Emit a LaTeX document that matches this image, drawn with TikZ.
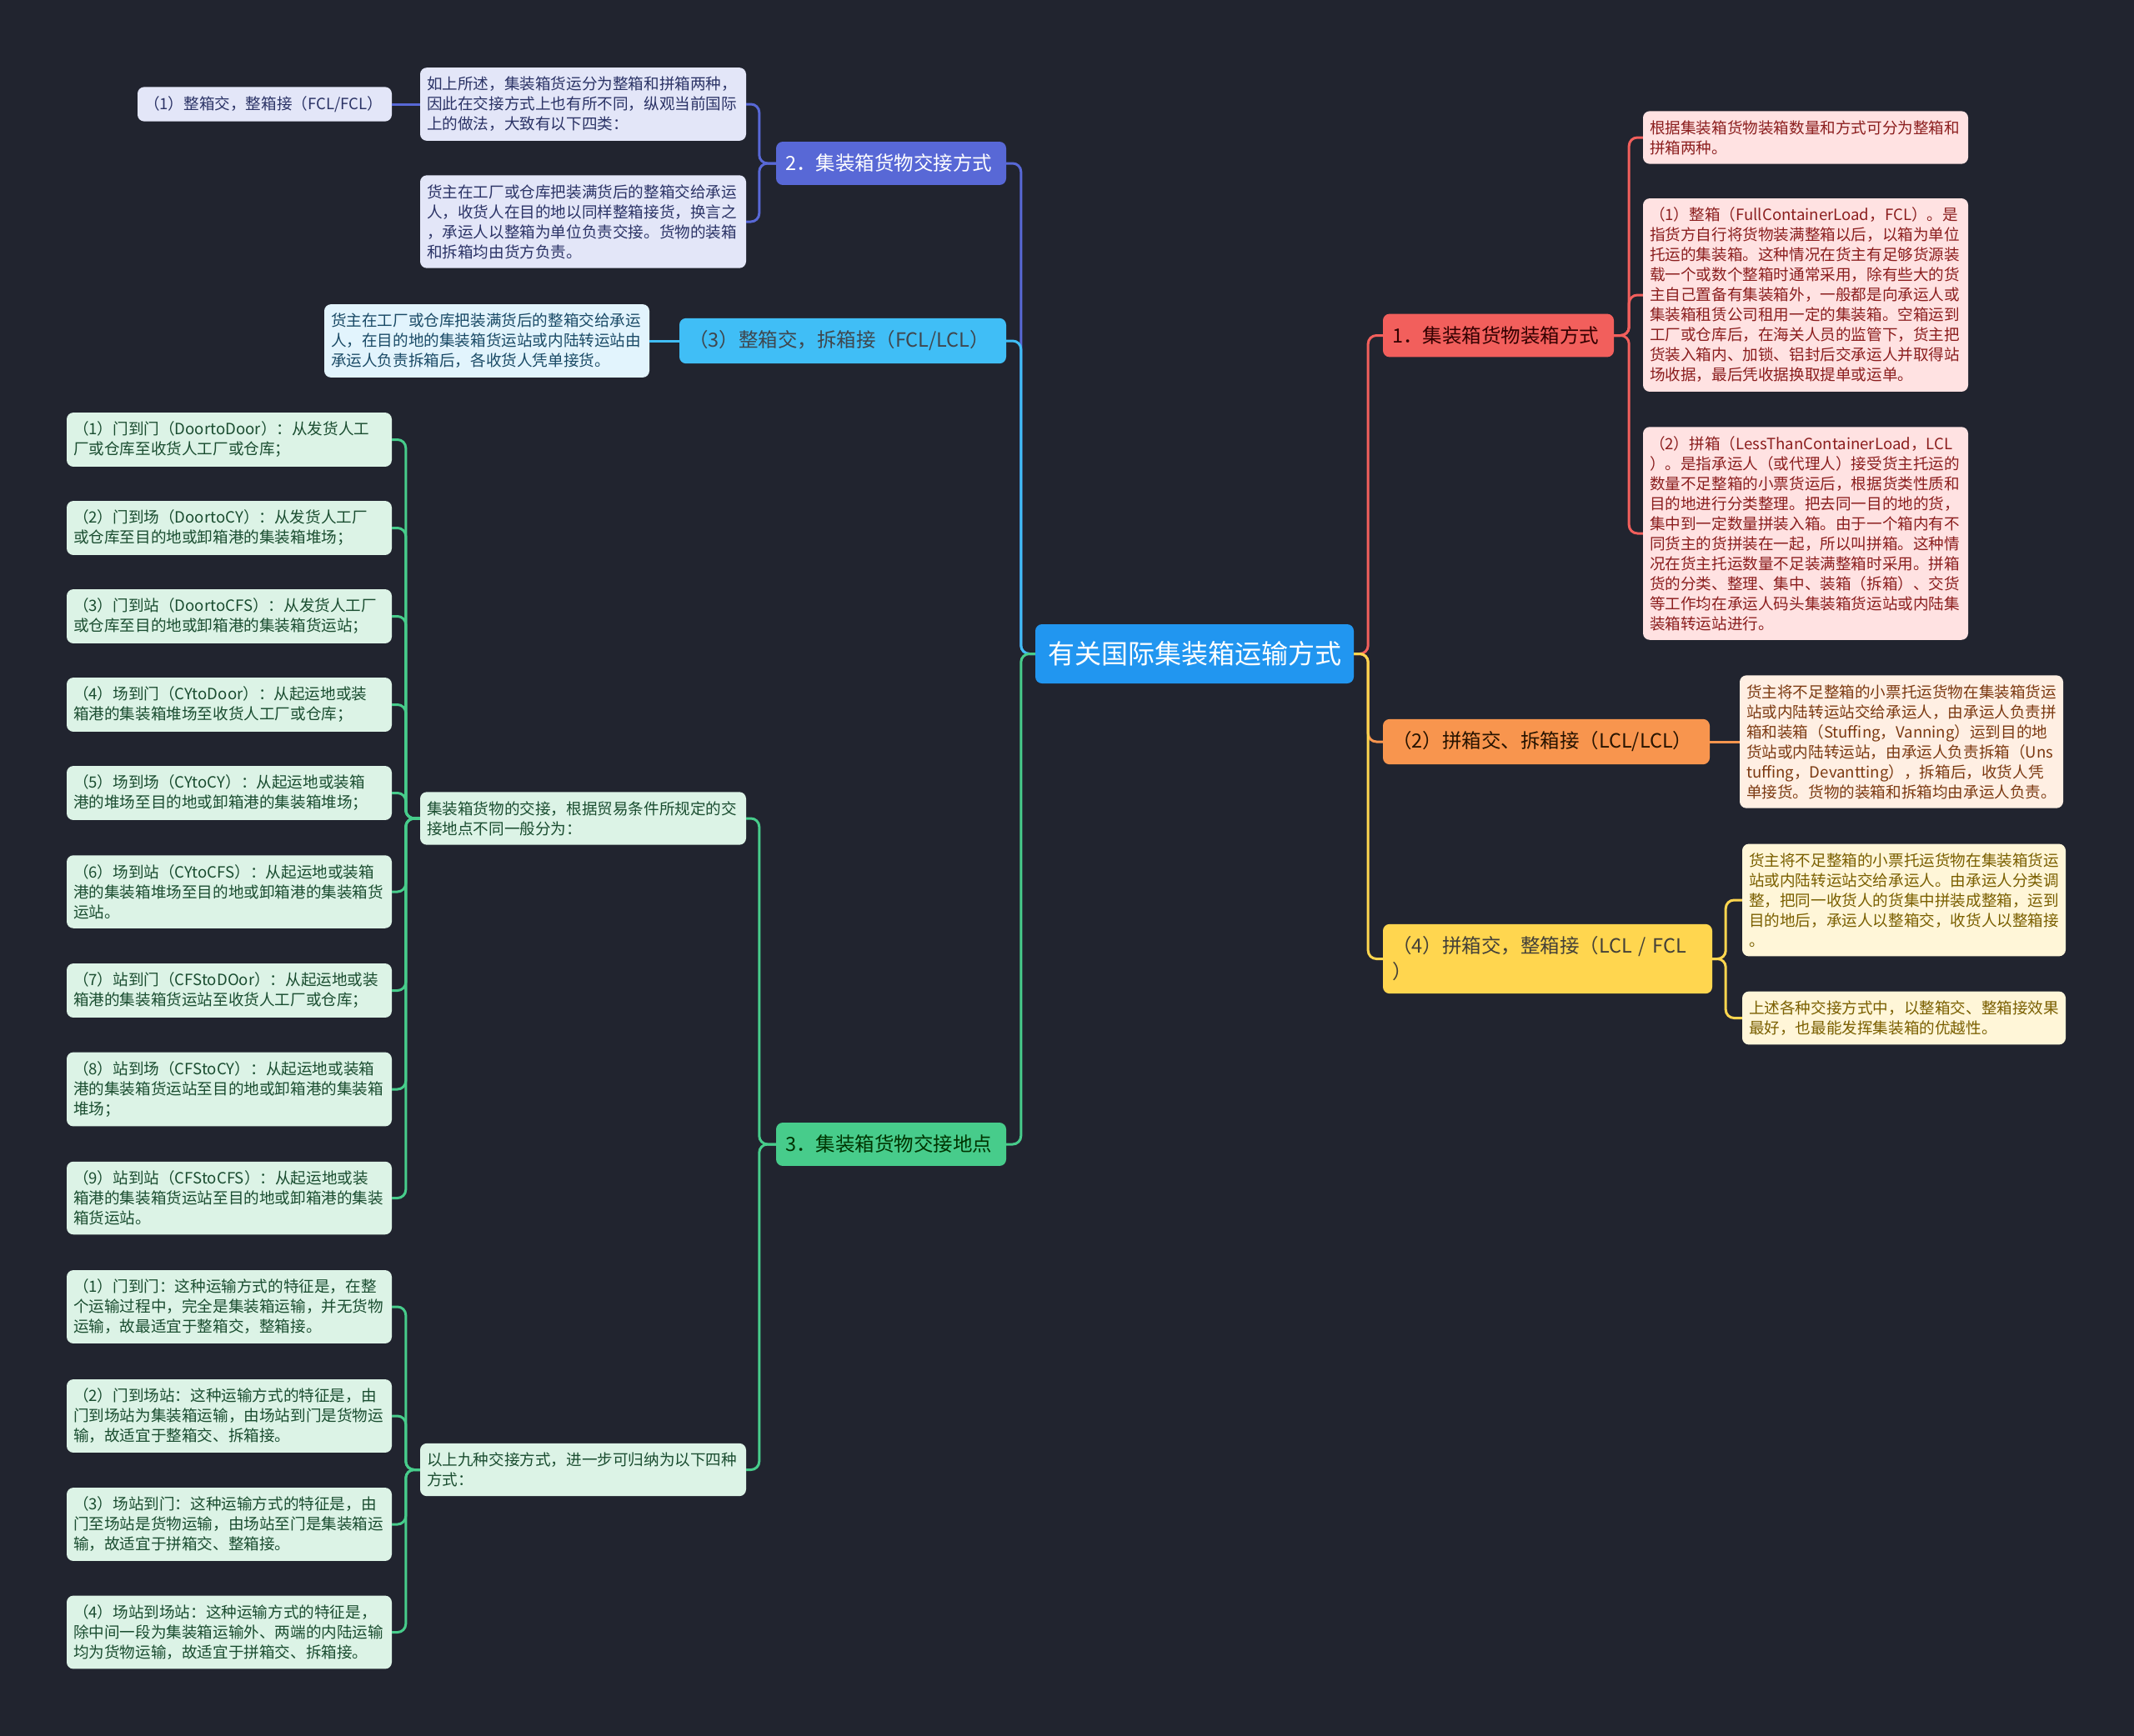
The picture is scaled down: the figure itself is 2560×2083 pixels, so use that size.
\documentclass[tikz,border=0pt]{standalone}
\usepackage{fontspec}
\setmainfont{Noto Sans CJK SC}
\definecolor{bg}{HTML}{21242F}
\definecolor{cRoot}{HTML}{2196F0}
\definecolor{cR}{HTML}{F25F5C}
\definecolor{cO}{HTML}{F8954E}
\definecolor{cY}{HTML}{FFD64F}
\definecolor{cB}{HTML}{5868D6}
\definecolor{cL}{HTML}{40BEF6}
\definecolor{cG}{HTML}{47CC8B}
\definecolor{fR}{HTML}{FFE2E2}\definecolor{tR}{HTML}{8B1E1E}
\definecolor{fO}{HTML}{FFEFE3}\definecolor{tO}{HTML}{7C3A12}
\definecolor{fY}{HTML}{FFF6D8}\definecolor{tY}{HTML}{7A5F00}
\definecolor{fB}{HTML}{E3E6F8}\definecolor{tB}{HTML}{2B3366}
\definecolor{fL}{HTML}{E2F4FD}\definecolor{tL}{HTML}{1A4A66}
\definecolor{fG}{HTML}{DCF3E6}\definecolor{tG}{HTML}{1A4D30}
\tikzset{
  rootbox/.style={fill=cRoot, text=white, rounded corners=8pt, minimum width=382pt,
    minimum height=71pt, inner sep=0pt, font=\fontsize{32}{38}\selectfont},
  branch/.style={rounded corners=8pt, inner xsep=11pt, inner ysep=15pt, align=left,
    font=\fontsize{23.5}{31}\selectfont},
  leaf/.style={rounded corners=8pt, inner xsep=8pt, inner ysep=11pt, align=left,
    text width=374pt, font=\fontsize{18.6}{24}\selectfont},
  brR/.style={branch, fill=cR, text=black!80!red},
  brO/.style={branch, fill=cO, text=black!85!orange},
  brY/.style={branch, fill=cY, text=black!85!yellow},
  brB/.style={branch, fill=cB, text=white},
  brL/.style={branch, fill=cL, text=black!80!cyan},
  brG/.style={branch, fill=cG, text=black!80!green},
  lfR/.style={leaf, fill=fR, text=tR},
  lfO/.style={leaf, fill=fO, text=tO},
  lfY/.style={leaf, fill=fY, text=tY},
  lfB/.style={leaf, fill=fB, text=tB},
  lfL/.style={leaf, fill=fL, text=tL},
  lfG/.style={leaf, fill=fG, text=tG},
  conn/.style={line width=3pt, rounded corners=10pt},
}
\begin{document}
\begin{tikzpicture}[x=1pt,y=-1pt]
\fill[bg] (0,0) rectangle (2560,2083);
\useasboundingbox (0,0) rectangle (2560,2083);

% root
\node[rootbox] (root) at (1433,784.5) {有关国际集装箱运输方式};

% right side
\node[brR, text width=255pt] (R) at (1797.5,402.5) {1．集装箱货物装箱方式};
\node[lfR] (R1) at (2166,165) {根据集装箱货物装箱数量和方式可分为整箱和\\拼箱两种。};
\node[lfR] (R2) at (2166,354) {（1）整箱（FullContainerLoad，FCL）。是\\指货方自行将货物装满整箱以后，以箱为单位\\托运的集装箱。这种情况在货主有足够货源装\\载一个或数个整箱时通常采用，除有些大的货\\主自己置备有集装箱外，一般都是向承运人或\\集装箱租赁公司租用一定的集装箱。空箱运到\\工厂或仓库后，在海关人员的监管下，货主把\\货装入箱内、加锁、铝封后交承运人并取得站\\场收据，最后凭收据换取提单或运单。};
\node[lfR] (R3) at (2166,640) {（2）拼箱（LessThanContainerLoad，LCL\\）。是指承运人（或代理人）接受货主托运的\\数量不足整箱的小票货运后，根据货类性质和\\目的地进行分类整理。把去同一目的地的货，\\集中到一定数量拼装入箱。由于一个箱内有不\\同货主的货拼装在一起，所以叫拼箱。这种情\\况在货主托运数量不足装满整箱时采用。拼箱\\货的分类、整理、集中、装箱（拆箱）、交货\\等工作均在承运人码头集装箱货运站或内陆集\\装箱转运站进行。};

\node[brO, text width=370pt] (O) at (1855,890) {（2）拼箱交、拆箱接（LCL/LCL）};
\node[lfO, text width=372pt] (O1) at (2281,890) {货主将不足整箱的小票托运货物在集装箱货运\\站或内陆转运站交给承运人，由承运人负责拼\\箱和装箱（Stuffing，Vanning）运到目的地\\货站或内陆转运站，由承运人负责拆箱（Uns\\tuffing，Devantting），拆箱后，收货人凭\\单接货。货物的装箱和拆箱均由承运人负责。};

\node[brY, text width=373pt] (Y) at (1856.5,1150.5) {（4）拼箱交，整箱接（LCL / FCL\\）};
\node[lfY, text width=372pt] (Y1) at (2284,1080) {货主将不足整箱的小票托运货物在集装箱货运\\站或内陆转运站交给承运人。由承运人分类调\\整，把同一收货人的货集中拼装成整箱，运到\\目的地后，承运人以整箱交，收货人以整箱接\\。};
\node[lfY, text width=372pt] (Y2) at (2284,1221.5) {上述各种交接方式中，以整箱交、整箱接效果\\最好，也最能发挥集装箱的优越性。};

% left side
\node[brB, text width=254pt] (B) at (1069,196) {2．集装箱货物交接方式};
\node[lfB, text width=375pt] (Ba) at (699.5,125) {如上所述，集装箱货运分为整箱和拼箱两种，\\因此在交接方式上也有所不同，纵观当前国际\\上的做法，大致有以下四类：};
\node[lfB, text width=375pt] (Bb) at (699.5,266) {货主在工厂或仓库把装满货后的整箱交给承运\\人，收货人在目的地以同样整箱接货，换言之\\，承运人以整箱为单位负责交接。货物的装箱\\和拆箱均由货方负责。};
\node[lfB, text width=289pt] (Bc) at (317.5,125) {（1）整箱交，整箱接（FCL/FCL）};

\node[brL, text width=370pt] (L) at (1011,409) {（3）整箱交，拆箱接（FCL/LCL）};
\node[lfL] (La) at (584,409) {货主在工厂或仓库把装满货后的整箱交给承运\\人，在目的地的集装箱货运站或内陆转运站由\\承运人负责拆箱后，各收货人凭单接货。};

\node[brG, text width=254pt] (G) at (1069,1373) {3．集装箱货物交接地点};
\node[lfG, text width=375pt] (G1) at (699.5,982) {集装箱货物的交接，根据贸易条件所规定的交\\接地点不同一般分为：};
\node[lfG, text width=375pt] (G2) at (699.5,1763.5) {以上九种交接方式，进一步可归纳为以下四种\\方式：};

\node[lfG] (P1) at (275,527.5) {（1）门到门（DoortoDoor）：从发货人工\\厂或仓库至收货人工厂或仓库；};
\node[lfG] (P2) at (275,633.5) {（2）门到场（DoortoCY）：从发货人工厂\\或仓库至目的地或卸箱港的集装箱堆场；};
\node[lfG] (P3) at (275,739.5) {（3）门到站（DoortoCFS）：从发货人工厂\\或仓库至目的地或卸箱港的集装箱货运站；};
\node[lfG] (P4) at (275,845.5) {（4）场到门（CYtoDoor）：从起运地或装\\箱港的集装箱堆场至收货人工厂或仓库；};
\node[lfG] (P5) at (275,951.5) {（5）场到场（CYtoCY）：从起运地或装箱\\港的堆场至目的地或卸箱港的集装箱堆场；};
\node[lfG] (P6) at (275,1070) {（6）场到站（CYtoCFS）：从起运地或装箱\\港的集装箱堆场至目的地或卸箱港的集装箱货\\运站。};
\node[lfG] (P7) at (275,1188.5) {（7）站到门（CFStoDOor）：从起运地或装\\箱港的集装箱货运站至收货人工厂或仓库；};
\node[lfG] (P8) at (275,1307) {（8）站到场（CFStoCY）：从起运地或装箱\\港的集装箱货运站至目的地或卸箱港的集装箱\\堆场；};
\node[lfG] (P9) at (275,1437.5) {（9）站到站（CFStoCFS）：从起运地或装\\箱港的集装箱货运站至目的地或卸箱港的集装\\箱货运站。};

\node[lfG] (Q1) at (275,1568) {（1）门到门：这种运输方式的特征是，在整\\个运输过程中，完全是集装箱运输，并无货物\\运输，故最适宜于整箱交，整箱接。};
\node[lfG] (Q2) at (275,1699) {（2）门到场站：这种运输方式的特征是，由\\门到场站为集装箱运输，由场站到门是货物运\\输，故适宜于整箱交、拆箱接。};
\node[lfG] (Q3) at (275,1829) {（3）场站到门：这种运输方式的特征是，由\\门至场站是货物运输，由场站至门是集装箱运\\输，故适宜于拼箱交、整箱接。};
\node[lfG] (Q4) at (275,1958.5) {（4）场站到场站：这种运输方式的特征是，\\除中间一段为集装箱运输外、两端的内陆运输\\均为货物运输，故适宜于拼箱交、拆箱接。};

% connectors: root
\draw[conn, cR] (root.east) -- ++(17,0) |- (R.west);
\draw[conn, cO] (root.east) -- ++(17,0) |- (O.west);
\draw[conn, cY] (root.east) -- ++(17,0) |- (Y.west);
\draw[conn, cB] (root.west) -- ++(-17,0) |- (B.east);
\draw[conn, cL] (root.west) -- ++(-17,0) |- (L.east);
\draw[conn, cG] (root.west) -- ++(-17,0) |- (G.east);

% right branches
\foreach \c in {R1,R2,R3} \draw[conn, cR] (R.east) -- ++(18,0) |- (\c.west);
\draw[conn, cO] (O.east) -- (O1.west |- O.east);
\foreach \c in {Y1,Y2} \draw[conn, cY] (Y.east) -- ++(16,0) |- (\c.west);

% left branches
\foreach \c in {Ba,Bb} \draw[conn, cB] (B.west) -- ++(-20,0) |- (\c.east);
\draw[conn, cB] (Ba.west) -- (Bc.east |- Ba.west);
\draw[conn, cL] (L.west) -- (La.east |- L.west);
\foreach \c in {G1,G2} \draw[conn, cG] (G.west) -- ++(-20,0) |- (\c.east);
\foreach \c in {P1,P2,P3,P4,P5,P6,P7,P8,P9} \draw[conn, cG] (G1.west) -- ++(-17,0) |- (\c.east);
\foreach \c in {Q1,Q2,Q3,Q4} \draw[conn, cG] (G2.west) -- ++(-17,0) |- (\c.east);
\end{tikzpicture}
\end{document}
